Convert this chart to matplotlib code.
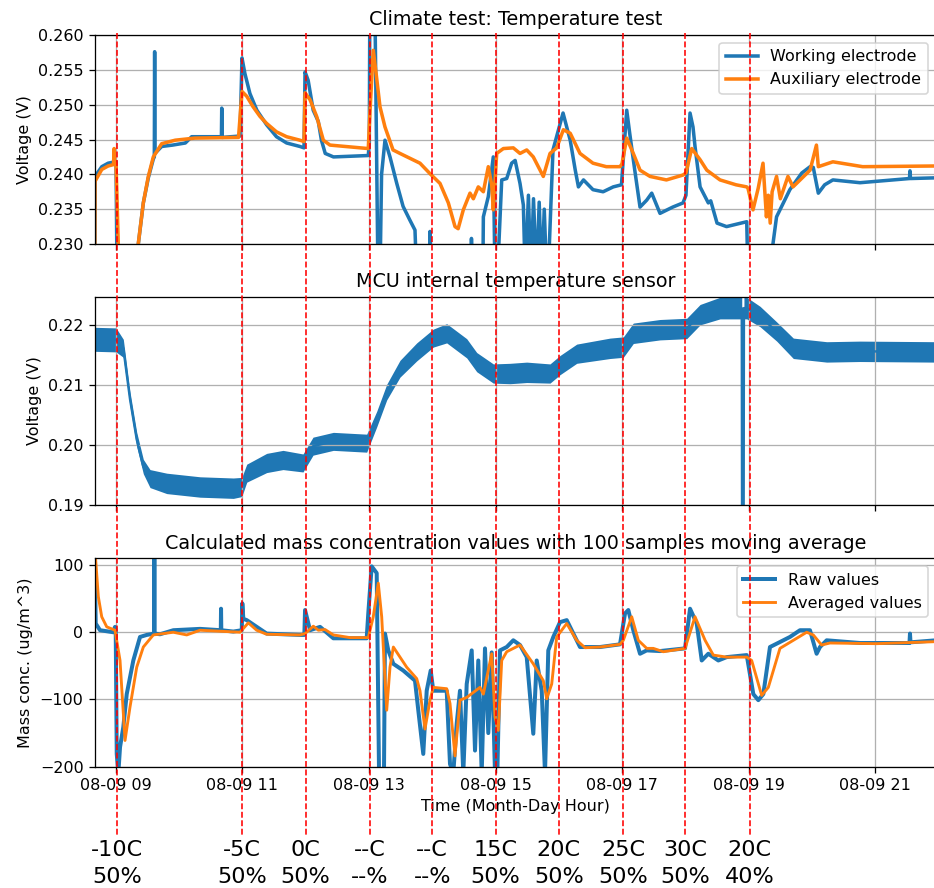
import numpy as np
import matplotlib
matplotlib.use("Agg")
import matplotlib.pyplot as plt
import matplotlib.dates as mdates
from matplotlib.lines import Line2D
from matplotlib.transforms import blended_transform_factory

DAY = np.datetime64("2019-08-09T00:00")

# Working / auxiliary electrode voltage (hours of day, volts)
we_t = [8.668, 8.673, 8.780, 8.880, 8.990, 9.005, 9.021, 9.340,
        9.357, 9.436, 9.515, 9.594, 9.610, 9.615, 9.620, 9.726,
        9.900, 10.100, 10.200, 10.670, 10.675, 10.680, 10.964, 10.995,
        11.040, 11.120, 11.230, 11.385, 11.540, 11.700, 11.910, 11.975,
        11.991, 12.040, 12.120, 12.200, 12.250, 12.310, 12.440, 12.990,
        13.006, 13.017, 13.049, 13.100, 13.144, 13.175, 13.200, 13.254,
        13.333, 13.440, 13.540, 13.649, 13.728, 13.755, 13.950, 13.965,
        13.992, 14.597, 14.620, 14.650, 14.800, 14.808, 14.886, 14.965,
        14.992, 15.029, 15.098, 15.177, 15.255, 15.310, 15.387, 15.440,
        15.470, 15.520, 15.560, 15.600, 15.650, 15.690, 15.730, 15.770,
        15.810, 15.830, 15.908, 16.067, 16.180, 16.260, 16.310, 16.390,
        16.540, 16.700, 16.860, 16.990, 17.073, 17.120, 17.200, 17.283,
        17.389, 17.468, 17.599, 17.800, 17.962, 18.009, 18.073, 18.120,
        18.152, 18.232, 18.362, 18.400, 18.500, 18.650, 18.969, 18.989,
        19.310, 19.440, 19.650, 19.840, 19.970, 20.020, 20.100, 20.200,
        20.330, 20.758, 21.540, 21.548, 21.556, 21.957]
we_v = [0.2250, 0.2397, 0.2411, 0.2416, 0.2418, 0.2418, 0.2250, 0.2250,
        0.2300, 0.2359, 0.2395, 0.2422, 0.2425, 0.2576, 0.2430, 0.2440,
        0.2442, 0.2445, 0.2454, 0.2454, 0.2495, 0.2453, 0.2455, 0.2567,
        0.2545, 0.2516, 0.2492, 0.2471, 0.2454, 0.2445, 0.2440, 0.2438,
        0.2547, 0.2535, 0.2492, 0.2476, 0.2449, 0.2430, 0.2425, 0.2427,
        0.2445, 0.2700, 0.2700, 0.2600, 0.2250, 0.2250, 0.2400, 0.2449,
        0.2425, 0.2387, 0.2354, 0.2334, 0.2320, 0.2250, 0.2250, 0.2318,
        0.2250, 0.2250, 0.2308, 0.2250, 0.2250, 0.2339, 0.2368, 0.2425,
        0.2250, 0.2250, 0.2392, 0.2394, 0.2416, 0.2420, 0.2387, 0.2356,
        0.2250, 0.2370, 0.2250, 0.2365, 0.2250, 0.2360, 0.2250, 0.2350,
        0.2250, 0.2250, 0.2435, 0.2488, 0.2449, 0.2406, 0.2382, 0.2392,
        0.2378, 0.2375, 0.2382, 0.2385, 0.2492, 0.2459, 0.2406, 0.2353,
        0.2363, 0.2373, 0.2344, 0.2353, 0.2359, 0.2370, 0.2488, 0.2468,
        0.2440, 0.2382, 0.2359, 0.2362, 0.2330, 0.2325, 0.2332, 0.2250,
        0.2250, 0.2339, 0.2378, 0.2402, 0.2411, 0.2410, 0.2373, 0.2385,
        0.2392, 0.2388, 0.2394, 0.2405, 0.2394, 0.2395]

ae_t = [8.668, 8.673, 8.780, 8.880, 8.965, 8.975, 8.985, 9.005,
        9.040, 9.068, 9.340, 9.357, 9.436, 9.515, 9.594, 9.726,
        9.940, 10.250, 10.940, 10.995, 11.070, 11.170, 11.280, 11.385,
        11.540, 11.700, 11.910, 11.975, 11.991, 12.070, 12.175, 12.280,
        12.385, 12.990, 13.017, 13.069, 13.120, 13.175, 13.254, 13.381,
        13.491, 13.649, 13.807, 13.965, 14.123, 14.255, 14.360, 14.410,
        14.491, 14.597, 14.650, 14.728, 14.808, 14.886, 14.940, 14.965,
        15.019, 15.124, 15.281, 15.387, 15.493, 15.597, 15.755, 15.861,
        15.967, 16.072, 16.180, 16.335, 16.540, 16.750, 16.967, 16.998,
        17.073, 17.177, 17.283, 17.441, 17.700, 17.962, 18.009, 18.100,
        18.232, 18.338, 18.547, 18.800, 18.969, 18.989, 19.068, 19.150,
        19.226, 19.280, 19.310, 19.340, 19.370, 19.440, 19.500, 19.620,
        19.700, 19.970, 20.070, 20.100, 20.330, 20.800, 21.957]
ae_v = [0.2250, 0.2390, 0.2407, 0.2412, 0.2414, 0.2437, 0.2415, 0.2415,
        0.2300, 0.2250, 0.2250, 0.2301, 0.2359, 0.2397, 0.2425, 0.2444,
        0.2449, 0.2452, 0.2453, 0.2519, 0.2512, 0.2497, 0.2483, 0.2473,
        0.2461, 0.2454, 0.2449, 0.2447, 0.2517, 0.2507, 0.2483, 0.2449,
        0.2442, 0.2437, 0.2490, 0.2578, 0.2540, 0.2497, 0.2468, 0.2435,
        0.2430, 0.2423, 0.2416, 0.2401, 0.2387, 0.2359, 0.2325, 0.2322,
        0.2349, 0.2373, 0.2365, 0.2382, 0.2375, 0.2411, 0.2385, 0.2349,
        0.2430, 0.2437, 0.2438, 0.2430, 0.2435, 0.2425, 0.2397, 0.2430,
        0.2438, 0.2464, 0.2459, 0.2430, 0.2416, 0.2411, 0.2411, 0.2415,
        0.2452, 0.2430, 0.2406, 0.2397, 0.2392, 0.2399, 0.2402, 0.2437,
        0.2421, 0.2406, 0.2392, 0.2385, 0.2382, 0.2380, 0.2349, 0.2380,
        0.2416, 0.2339, 0.2370, 0.2330, 0.2375, 0.2397, 0.2365, 0.2397,
        0.2382, 0.2406, 0.2442, 0.2411, 0.2418, 0.2411, 0.2412]

# MCU temperature sensor: centre value and noise half-width
mcu_t = [8.668, 9.005, 9.120, 9.226, 9.332, 9.436, 9.542, 9.806,
         10.332, 10.858, 10.991, 11.070, 11.385, 11.643, 11.959, 12.117,
         12.438, 12.965, 13.123, 13.281, 13.491, 13.755, 14.017, 14.229,
         14.545, 14.703, 14.965, 15.229, 15.493, 15.861, 16.019, 16.283,
         16.809, 17.019, 17.177, 17.599, 18.020, 18.232, 18.547, 18.890,
         18.895, 18.920, 18.925, 18.969, 19.179, 19.442, 19.705, 20.232,
         20.758, 21.957]
mcu_v = [0.2176, 0.2175, 0.2161, 0.2076, 0.2009, 0.1964, 0.1944, 0.1936,
         0.1930, 0.1928, 0.1930, 0.1953, 0.1970, 0.1975, 0.1970, 0.1998,
         0.2006, 0.2003, 0.2043, 0.2088, 0.2127, 0.2155, 0.2178, 0.2186,
         0.2161, 0.2138, 0.2119, 0.2119, 0.2121, 0.2119, 0.2133, 0.2152,
         0.2161, 0.2163, 0.2186, 0.2192, 0.2194, 0.2217, 0.2228, 0.2228,
         0.1850, 0.1850, 0.2228, 0.2228, 0.2214, 0.2189, 0.2161, 0.2155,
         0.2156, 0.2155]
mcu_spread = [0.0020, 0.0020, 0.0015, 0.0012, 0.0012, 0.0012, 0.0015, 0.0017,
              0.0017, 0.0017, 0.0016, 0.0015, 0.0016, 0.0016, 0.0015, 0.0015,
              0.0015, 0.0015, 0.0013, 0.0013, 0.0014, 0.0015, 0.0015, 0.0016,
              0.0016, 0.0016, 0.0016, 0.0017, 0.0017, 0.0016, 0.0016, 0.0016,
              0.0017, 0.0017, 0.0017, 0.0017, 0.0017, 0.0017, 0.0018, 0.0018,
              0.0, 0.0, 0.0018, 0.0018, 0.0017, 0.0016, 0.0017, 0.0017,
              0.0017, 0.0017]

# Mass concentration, raw and 100-sample moving average (ug/m^3)
raw_t = [8.668, 8.684, 8.752, 8.962, 8.989, 9.000, 9.016, 9.041,
         9.068, 9.120, 9.174, 9.278, 9.384, 9.490, 9.605, 9.610,
         9.615, 9.700, 9.910, 10.332, 10.660, 10.664, 10.668, 10.858,
         10.991, 11.000, 11.016, 11.070, 11.385, 11.912, 11.980, 11.991,
         12.070, 12.228, 12.438, 12.965, 12.990, 13.044, 13.123, 13.160,
         13.238, 13.254, 13.306, 13.386, 13.543, 13.728, 13.780, 13.859,
         13.913, 13.976, 14.017, 14.229, 14.281, 14.333, 14.387, 14.439,
         14.491, 14.545, 14.624, 14.676, 14.728, 14.782, 14.834, 14.886,
         14.940, 14.992, 15.029, 15.071, 15.177, 15.281, 15.387, 15.493,
         15.597, 15.651, 15.730, 15.782, 15.834, 15.913, 16.019, 16.125,
         16.335, 16.651, 16.967, 17.046, 17.098, 17.177, 17.283, 17.389,
         17.599, 17.994, 18.073, 18.179, 18.258, 18.362, 18.520, 18.652,
         18.969, 19.073, 19.152, 19.231, 19.336, 19.442, 19.652, 19.810,
         19.968, 20.073, 20.126, 20.232, 20.758, 21.540, 21.548, 21.556, 21.957]
raw_v = [107, 13, 3, 0, 8, 2, -181, -210,
         -171, -141, -92, -42, -7, -4, -2, 115,
         -2, -3, 3, 5, 3, 35, 3, 1,
         3, 43, 20, 18, -2, -4, -4, 33,
         3, 8, -9, -9, 28, 98, 88, -210,
         -210, -2, -27, -47, -57, -72, -116, -181,
         -87, -57, -87, -87, -196, -210, -136, -87,
         -210, -77, -27, -176, -42, -210, -24, -150,
         -30, -210, -210, -27, -22, -12, -19, -37,
         -151, -42, -87, -210, -27, -7, 15, 18,
         -22, -22, -18, 28, 33, 3, -32, -27,
         -28, -24, 35, 13, -42, -32, -42, -37,
         -34, -92, -101, -92, -22, -17, -7, 3,
         3, -32, -22, -12, -16, -16, -2, -15, -12]

avg_t = [8.684, 8.725, 8.779, 8.858, 8.989, 9.068, 9.147, 9.226,
         9.332, 9.436, 9.594, 9.910, 10.122, 10.332, 10.964, 11.095,
         11.227, 11.385, 11.912, 11.991, 12.122, 12.201, 12.307, 12.438,
         12.701, 12.990, 13.069, 13.148, 13.202, 13.281, 13.333, 13.386,
         13.491, 13.597, 13.755, 13.807, 13.886, 13.965, 14.017, 14.229,
         14.281, 14.360, 14.439, 14.545, 14.755, 14.808, 14.940, 14.992,
         15.044, 15.098, 15.177, 15.387, 15.597, 15.755, 15.809, 15.888,
         15.967, 16.125, 16.283, 16.414, 16.651, 16.967, 17.019, 17.152,
         17.256, 17.389, 17.493, 17.651, 17.994, 18.152, 18.311, 18.441,
         18.652, 18.969, 19.047, 19.205, 19.310, 19.494, 19.705, 19.916,
         20.020, 20.152, 20.284, 21.022, 21.957]
avg_v = [107, 53, 23, 8, 3, -42, -161, -111,
         -52, -22, -4, 0, -4, 3, 0, 14,
         3, -3, -4, -2, 9, 3, 4, -4,
         -8, -8, 23, 73, 23, -116, -52, -22,
         -37, -52, -69, -87, -144, -101, -82, -84,
         -106, -184, -101, -97, -82, -92, -32, -126,
         -146, -42, -29, -19, -47, -72, -99, -77,
         -7, 13, -12, -23, -22, -18, -12, 23,
         -12, -24, -24, -29, -24, 23, -12, -34,
         -37, -37, -42, -94, -82, -24, -12, 0,
         -4, -19, -16, -17, -14]

# Climate chamber set points
event_time = ["09:01", "11:00", "12:00", "13:01", "14:00",
              "15:00", "16:00", "17:01", "18:00", "19:01"]
event_temp = ["-10C", "-5C", "0C", "--C", "--C", "15C", "20C", "25C", "30C", "20C"]
event_rh = ["50%", "50%", "50%", "--%", "--%", "50%", "50%", "50%", "50%", "40%"]


def to_time(hours):
    secs = np.round(np.asarray(hours) * 3600).astype(np.int64)
    return DAY + secs.astype("timedelta64[s]")


fig = plt.figure(figsize=(934 / 115, 888 / 115), dpi=115)
ax1 = fig.add_axes([0.1014, 0.7252, 0.9006, 0.2354])
ax2 = fig.add_axes([0.1014, 0.4313, 0.9006, 0.2346], sharex=ax1)
ax3 = fig.add_axes([0.1014, 0.1366, 0.9006, 0.2347], sharex=ax1)

ax1.plot(to_time(we_t), we_v, color="C0", lw=2.2, label="Working electrode")
ax1.plot(to_time(ae_t), ae_v, color="C1", lw=2.2, label="Auxiliary electrode")
ax1.set_ylim(0.230, 0.260)
ax1.set_title("Climate test: Temperature test")
ax1.set_ylabel("Voltage (V)")
ax1.legend(loc="upper right")

mcu_v = np.array(mcu_v)
mcu_spread = np.array(mcu_spread)
ax2.fill_between(to_time(mcu_t), mcu_v - mcu_spread, mcu_v + mcu_spread,
                 color="C0", lw=0)
ax2.plot(to_time(mcu_t), mcu_v, color="C0", lw=1.5)
ax2.set_ylim(0.19, 0.2247)
ax2.set_yticks([0.19, 0.20, 0.21, 0.22])
ax2.set_title("MCU internal temperature sensor")
ax2.set_ylabel("Voltage (V)")

ax3.plot(to_time(raw_t), raw_v, color="C0", lw=2.5, label="Raw values")
ax3.plot(to_time(avg_t), avg_v, color="C1", lw=1.8, label="Averaged values")
ax3.set_ylim(-200, 110)
ax3.set_yticks([-200, -100, 0, 100])
ax3.set_title("Calculated mass concentration values with 100 samples moving average")
ax3.set_ylabel("Mass conc. (ug/m^3)")
ax3.set_xlabel("Time (Month-Day Hour)")
ax3.legend(loc="upper right")

ax3.xaxis.set_major_locator(mdates.HourLocator(byhour=range(9, 23, 2)))
ax3.xaxis.set_major_formatter(mdates.DateFormatter("%m-%d %H"))
ax3.set_xlim(to_time([8.668])[0], to_time([21.957])[0])

for ax in (ax1, ax2, ax3):
    ax.grid(True)
for ax in (ax1, ax2):
    ax.tick_params(labelbottom=False)

# dashed markers for each chamber step, running through all panels
trans = blended_transform_factory(ax3.transData, fig.transFigure)
for t, temp, rh in zip(event_time, event_temp, event_rh):
    x = mdates.date2num(np.datetime64("2019-08-09T" + t))
    fig.add_artist(Line2D([x, x], [0.9625, 0.0597], transform=trans,
                          color="red", ls="--", lw=1))
    fig.text(x, 0.0541, temp + "\n" + rh, transform=trans,
             ha="center", va="top", fontsize=14, linespacing=1.45)

fig.savefig("out.png", dpi=115)
